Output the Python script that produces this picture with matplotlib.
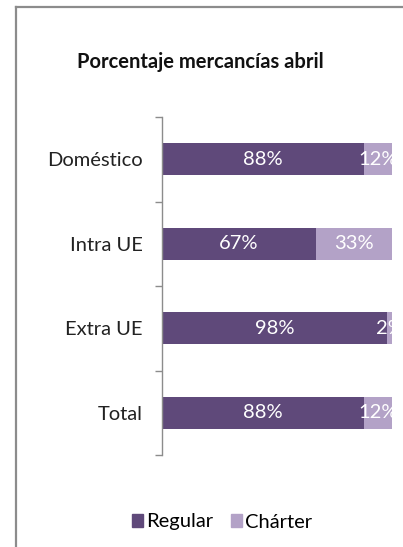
import matplotlib
matplotlib.use("Agg")
import matplotlib.pyplot as plt
from matplotlib.lines import Line2D
from matplotlib.patches import Patch

categorias = ["Doméstico", "Intra UE", "Extra UE", "Total"]
regular = [88, 67, 98, 88]
charter = [12, 33, 2, 12]
series = ["Regular", "Chárter"]
colores = ["#5F497A", "#B3A2C7"]

plt.rcParams['font.family'] = ['Lato', 'DejaVu Sans']

fig = plt.figure(figsize=(4.03, 5.47), dpi=100)

# marco del grafico (recortado a la derecha y abajo)
fig.add_artist(Line2D([16/403, 16/403], [0, 1 - 7/547], color="#8c8c8c", lw=1.6))
fig.add_artist(Line2D([16/403, 1], [1 - 7/547, 1 - 7/547], color="#8c8c8c", lw=1.6))

ax = fig.add_axes([162/403, 1 - 455/547, 230/403, (455 - 117)/547])

y = range(len(categorias))
b1 = ax.barh(y, regular, height=0.38, color=colores[0], label=series[0])
b2 = ax.barh(y, charter, left=regular, height=0.38, color=colores[1], label=series[1])

for i in y:
    ax.text(regular[i] / 2, i, f"{regular[i]}%", ha="center", va="center",
            color="white", fontsize=14.5, clip_on=True)
    ax.text(regular[i] + charter[i] / 2, i, f"{charter[i]}%", ha="center", va="center",
            color="white", fontsize=14.5, clip_on=True)

ax.set_xlim(0, 100)
ax.set_ylim(len(categorias) - 0.5, -0.5)
ax.set_yticks(list(y))
ax.set_yticklabels(categorias, fontsize=14.5, color="#222222")
ax.set_yticks([i - 0.5 for i in range(len(categorias) + 1)], minor=True)
ax.tick_params(axis="y", which="major", length=0, pad=14)
ax.tick_params(axis="y", which="minor", length=5, color="#8c8c8c", width=1)
ax.set_xticks([])
for s in ["top", "right", "bottom"]:
    ax.spines[s].set_visible(False)
ax.spines["left"].set_color("#8c8c8c")
ax.spines["left"].set_linewidth(1)

fig.text(200/403, 1 - 62/547, "Porcentaje mercancías abril", ha="center", va="center",
         fontsize=14.5, fontweight="bold", color="#111111")

handles = [Patch(color=colores[0], label=series[0]), Patch(color=colores[1], label=series[1])]
fig.legend(handles=handles, loc="center", bbox_to_anchor=(222/403, 1 - 522/547), ncol=2,
           frameon=False, fontsize=14.5, handlelength=0.55, handleheight=0.6,
           handletextpad=0.15, columnspacing=0.9)

fig.savefig("out.png", dpi=100)
